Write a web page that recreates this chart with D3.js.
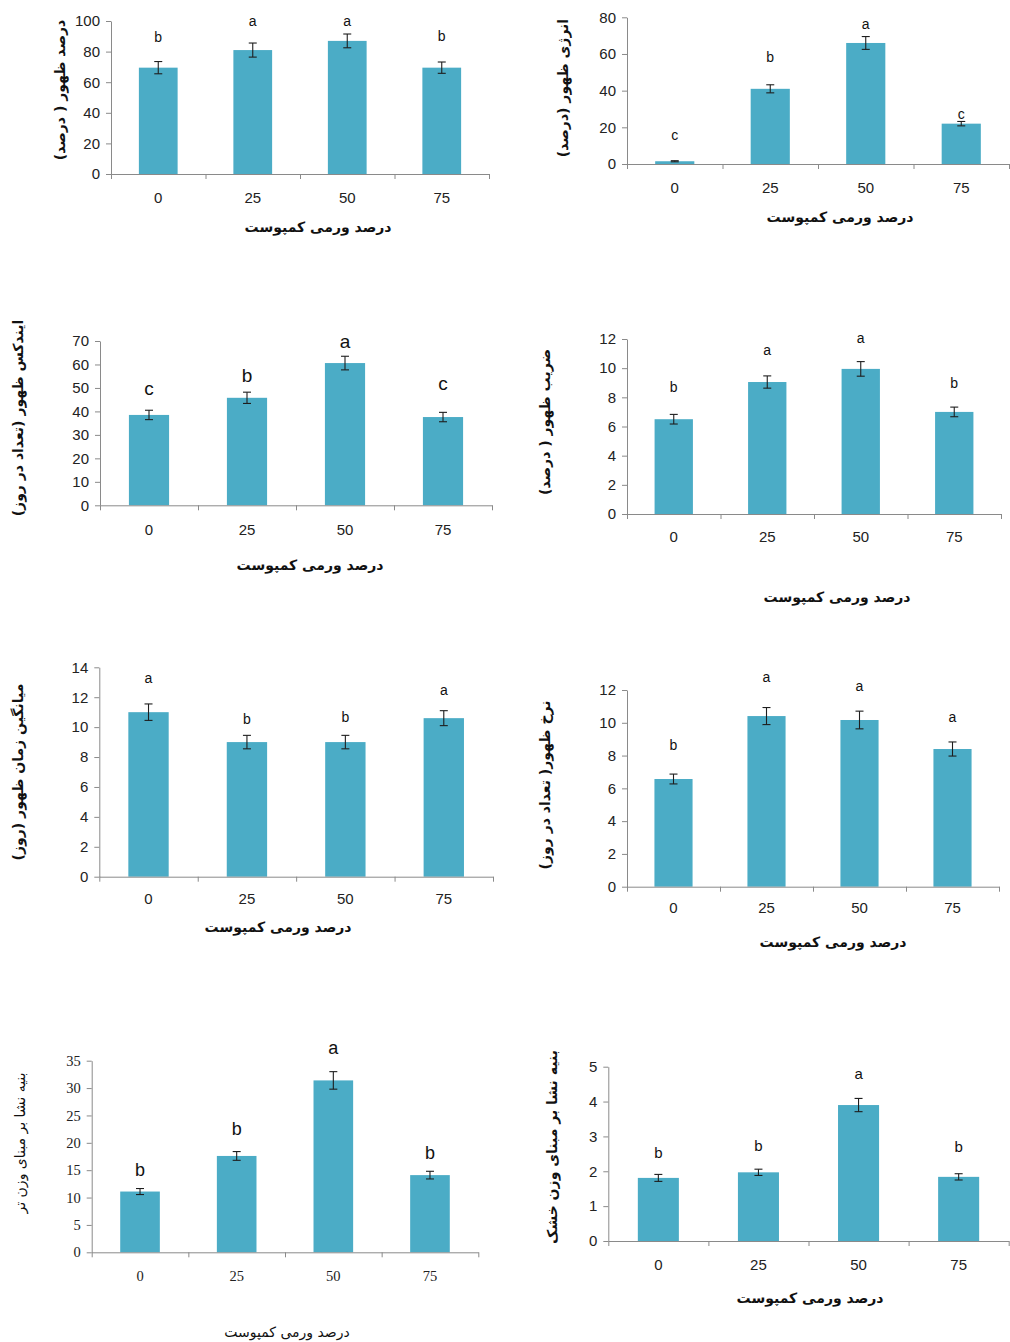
<!DOCTYPE html>
<html>
<head>
<meta charset="utf-8">
<script src="https://cdn.jsdelivr.net/npm/d3@7"></script>
<style>
  body { margin: 0; background: #ffffff; }
  svg { display: block; }
</style>
</head>
<body>
<svg id="chart" width="1010" height="1342"></svg>
<script>
// Vermicompost levels (%) shared by every panel
const categories = ["0", "25", "50", "75"];
const compostTitle = "درصد ورمی کمپوست";

// Emergence percentage
const emergencePct = [69.5, 81, 87, 69.5];
const emergencePctErr = [4, 4.6, 4.5, 3.7];
const emergencePctLetters = ["b", "a", "a", "b"];
const emergencePctLetterAt = [86.5, 96.7, 96.7, 87];
const emergencePctTicks = [0, 20, 40, 60, 80, 100];

// Emergence energy
const emergenceEnergy = [1.5, 41, 66, 22];
const emergenceEnergyErr = [0.3, 2.2, 3.5, 1.2];
const emergenceEnergyLetters = ["c", "b", "a", "c"];
const emergenceEnergyLetterAt = [12.9, 55.5, 73.8, 24.3];
const emergenceEnergyTicks = [0, 20, 40, 60, 80];

// Emergence index
const emergenceIndex = [38.5, 45.8, 60.6, 37.6];
const emergenceIndexErr = [2, 2.4, 2.9, 2];
const emergenceIndexLetters = ["c", "b", "a", "c"];
const emergenceIndexLetterAt = [47, 52.5, 67, 49.1];
const emergenceIndexTicks = [0, 10, 20, 30, 40, 50, 60, 70];

// Emergence coefficient
const emergenceCoef = [6.5, 9.05, 9.95, 7.0];
const emergenceCoefErr = [0.33, 0.42, 0.5, 0.33];
const emergenceCoefLetters = ["b", "a", "a", "b"];
const emergenceCoefLetterAt = [8.39, 10.88, 11.75, 8.64];
const emergenceCoefTicks = [0, 2, 4, 6, 8, 10, 12];

// Mean emergence time
const meanEmergenceTime = [11.0, 9.0, 9.0, 10.6];
const meanEmergenceTimeErr = [0.55, 0.45, 0.45, 0.5];
const meanEmergenceTimeLetters = ["a", "b", "b", "a"];
const meanEmergenceTimeLetterAt = [12.96, 10.23, 10.35, 12.15];
const meanEmergenceTimeTicks = [0, 2, 4, 6, 8, 10, 12, 14];

// Emergence rate
const emergenceRate = [6.57, 10.41, 10.17, 8.4];
const emergenceRateErr = [0.3, 0.52, 0.54, 0.43];
const emergenceRateLetters = ["b", "a", "a", "a"];
const emergenceRateLetterAt = [8.34, 12.49, 11.94, 10.05];
const emergenceRateTicks = [0, 2, 4, 6, 8, 10, 12];

// Seedling vigour (fresh weight basis)
const vigourFresh = [11.1, 17.6, 31.4, 14.1];
const vigourFreshErr = [0.55, 0.8, 1.6, 0.7];
const vigourFreshLetters = ["b", "b", "a", "b"];
const vigourFreshLetterAt = [13.9, 21.4, 36.2, 17.1];
const vigourFreshTicks = [0, 5, 10, 15, 20, 25, 30, 35];

// Seedling vigour (dry weight basis)
const vigourDry = [1.81, 1.97, 3.9, 1.84];
const vigourDryErr = [0.1, 0.09, 0.19, 0.09];
const vigourDryLetters = ["b", "b", "a", "b"];
const vigourDryLetterAt = [2.37, 2.58, 4.66, 2.56];
const vigourDryTicks = [0, 1, 2, 3, 4, 5];

const BAR = "#4bacc6";
const AXIS = "#8a8a8a";
const ERR = "#1e1e1e";
const SANS = "'Liberation Sans', Arial, sans-serif";
const SERIF = "'Liberation Serif', 'Times New Roman', serif";
const FA = "'DejaVu Sans', sans-serif";

const panels = [
  { values: emergencePct, err: emergencePctErr, letters: emergencePctLetters, letterAt: emergencePctLetterAt,
    ticks: emergencePctTicks, yTitle: "درصد ظهور ( درصد)",
    box: { left: 111, right: 489, top: 21, bottom: 174 }, tickLabelDy: 29,
    xTitle: [318, 227], yTitlePos: [60, 90], letterSize: 14, numFont: SANS, faWeight: "bold" },
  { values: emergenceEnergy, err: emergenceEnergyErr, letters: emergenceEnergyLetters, letterAt: emergenceEnergyLetterAt,
    ticks: emergenceEnergyTicks, yTitle: "انرژی ظهور (درصد)",
    box: { left: 627, right: 1009, top: 17.3, bottom: 164 }, tickLabelDy: 29,
    xTitle: [840, 217], yTitlePos: [563, 88], letterSize: 14, numFont: SANS, faWeight: "bold" },
  { values: emergenceIndex, err: emergenceIndexErr, letters: emergenceIndexLetters, letterAt: emergenceIndexLetterAt,
    ticks: emergenceIndexTicks, yTitle: "ایندکس ظهور (تعداد در روز)",
    box: { left: 100, right: 492, top: 341, bottom: 505.3 }, tickLabelDy: 30,
    xTitle: [310, 565], yTitlePos: [18, 418], letterSize: 19, numFont: SANS, faWeight: "bold" },
  { values: emergenceCoef, err: emergenceCoefErr, letters: emergenceCoefLetters, letterAt: emergenceCoefLetterAt,
    ticks: emergenceCoefTicks, yTitle: "ضریب ظهور ( درصد)",
    box: { left: 627, right: 1001, top: 339, bottom: 514 }, tickLabelDy: 28,
    xTitle: [837, 597], yTitlePos: [545, 422], letterSize: 14, numFont: SANS, faWeight: "bold" },
  { values: meanEmergenceTime, err: meanEmergenceTimeErr, letters: meanEmergenceTimeLetters, letterAt: meanEmergenceTimeLetterAt,
    ticks: meanEmergenceTimeTicks, yTitle: "میانگین زمان ظهور (روز)",
    box: { left: 99.3, right: 493, top: 667.3, bottom: 876.7 }, tickLabelDy: 27,
    xTitle: [278, 927], yTitlePos: [18, 772], letterSize: 14, numFont: SANS, faWeight: "bold" },
  { values: emergenceRate, err: emergenceRateErr, letters: emergenceRateLetters, letterAt: emergenceRateLetterAt,
    ticks: emergenceRateTicks, yTitle: "نرخ ظهور( تعداد در روز)",
    box: { left: 627, right: 999, top: 690, bottom: 886.7 }, tickLabelDy: 26,
    xTitle: [833, 942], yTitlePos: [545, 785], letterSize: 14, numFont: SANS, faWeight: "bold" },
  { values: vigourFresh, err: vigourFreshErr, letters: vigourFreshLetters, letterAt: vigourFreshLetterAt,
    ticks: vigourFreshTicks, yTitle: "بنیه نشا بر مبنای وزن تر",
    box: { left: 91.7, right: 478.3, top: 1060.7, bottom: 1252.3 }, tickLabelDy: 29,
    xTitle: [287, 1332], yTitlePos: [20, 1143], letterSize: 18, numFont: SERIF, faWeight: "normal" },
  { values: vigourDry, err: vigourDryErr, letters: vigourDryLetters, letterAt: vigourDryLetterAt,
    ticks: vigourDryTicks, yTitle: "بنیه نشا بر مبنای وزن خشک",
    box: { left: 608.3, right: 1008.7, top: 1066.7, bottom: 1241 }, tickLabelDy: 29,
    xTitle: [810, 1298], yTitlePos: [552, 1147], letterSize: 15, numFont: SANS, faWeight: "bold" }
];

const svg = d3.select("#chart");

panels.forEach(p => {
  const b = p.box;
  const g = svg.append("g");
  const yMax = p.ticks[p.ticks.length - 1];

  const x = d3.scaleBand().domain(categories).range([b.left, b.right])
    .paddingInner(0.59).paddingOuter(0.295);
  const xEdge = d3.scaleLinear().domain([0, categories.length]).range([b.left, b.right]);
  const y = d3.scaleLinear().domain([0, yMax]).range([b.bottom, b.top]);

  // bars
  g.append("g").selectAll("rect").data(p.values).join("rect")
    .attr("x", (d, i) => x(categories[i]))
    .attr("y", d => y(d))
    .attr("width", x.bandwidth())
    .attr("height", d => y(0) - y(d))
    .attr("fill", BAR);

  // y axis
  const yAxis = g.append("g").attr("transform", `translate(${b.left},0)`)
    .call(d3.axisLeft(y).tickValues(p.ticks).tickSize(5).tickSizeOuter(0).tickPadding(6)
      .tickFormat(d3.format("d")));
  yAxis.select(".domain").attr("stroke", AXIS);
  yAxis.selectAll(".tick line").attr("stroke", AXIS);
  yAxis.selectAll(".tick text").attr("fill", "#222").style("font-family", p.numFont)
    .style("font-size", p.numFont === SERIF ? "14.5px" : "15px");

  // x axis: ticks at category boundaries
  const xAxis = g.append("g").attr("transform", `translate(0,${b.bottom})`)
    .call(d3.axisBottom(xEdge).ticks(categories.length).tickSize(5).tickSizeOuter(0).tickFormat(""));
  xAxis.select(".domain").attr("stroke", AXIS);
  xAxis.selectAll(".tick line").attr("stroke", AXIS);

  // category labels
  g.append("g").selectAll("text").data(categories).join("text")
    .attr("x", d => x(d) + x.bandwidth() / 2)
    .attr("y", b.bottom + p.tickLabelDy)
    .attr("text-anchor", "middle")
    .attr("fill", "#222")
    .style("font-family", p.numFont)
    .style("font-size", p.numFont === SERIF ? "14.5px" : "15px")
    .text(d => d);

  // error bars
  const eb = g.append("g").attr("stroke", ERR).attr("stroke-width", 1.1);
  p.values.forEach((v, i) => {
    const cx = x(categories[i]) + x.bandwidth() / 2;
    const hi = y(v + p.err[i]), lo = y(v - p.err[i]);
    eb.append("line").attr("x1", cx).attr("x2", cx).attr("y1", hi).attr("y2", lo);
    eb.append("line").attr("x1", cx - 4).attr("x2", cx + 4).attr("y1", hi).attr("y2", hi);
    eb.append("line").attr("x1", cx - 4).attr("x2", cx + 4).attr("y1", lo).attr("y2", lo);
  });

  // significance letters
  g.append("g").selectAll("text").data(p.letters).join("text")
    .attr("x", (d, i) => x(categories[i]) + x.bandwidth() / 2)
    .attr("y", (d, i) => y(p.letterAt[i]))
    .attr("text-anchor", "middle")
    .attr("fill", "#111")
    .style("font-family", SANS)
    .style("font-size", p.letterSize + "px")
    .text(d => d);

  // axis titles
  g.append("text")
    .attr("x", p.xTitle[0]).attr("y", p.xTitle[1]).attr("dy", "0.35em")
    .attr("text-anchor", "middle").attr("direction", "rtl")
    .attr("fill", "#111")
    .style("font-family", FA).style("font-size", "14px").style("font-weight", p.faWeight)
    .text(compostTitle);

  g.append("text")
    .attr("transform", `translate(${p.yTitlePos[0]},${p.yTitlePos[1]}) rotate(-90)`)
    .attr("dy", "0.35em")
    .attr("text-anchor", "middle").attr("direction", "rtl")
    .attr("fill", "#111")
    .style("font-family", FA).style("font-size", "14px").style("font-weight", p.faWeight)
    .text(p.yTitle);
});
</script>
</body>
</html>
